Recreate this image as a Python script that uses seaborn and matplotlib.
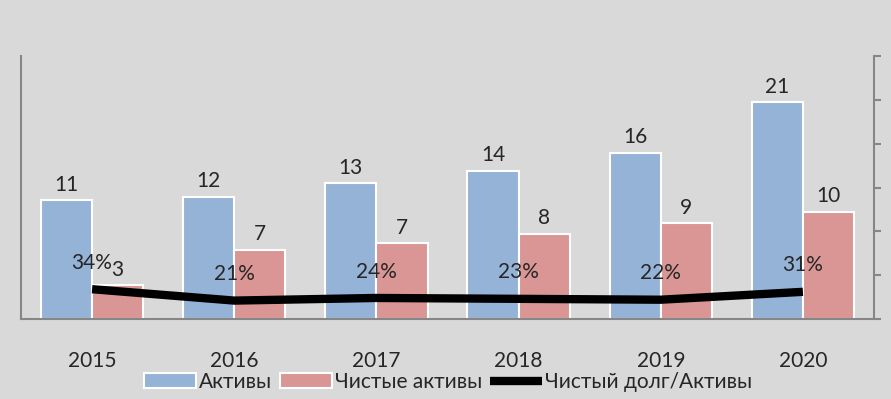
import pandas as pd
import matplotlib
matplotlib.use("Agg")
import matplotlib.pyplot as plt
import seaborn as sns
from matplotlib.patches import Patch
from matplotlib.lines import Line2D

# данные
years = ["2015", "2016", "2017", "2018", "2019", "2020"]
assets = [11.3, 11.6, 12.9, 14.1, 15.8, 20.6]
net_assets = [3.2, 6.6, 7.2, 8.1, 9.1, 10.2]
debt_ratio = [0.34, 0.21, 0.24, 0.23, 0.22, 0.31]
series_names = ["Активы", "Чистые активы", "Чистый долг/Активы"]

blue = "#95b3d7"
red = "#d99694"
bg = "#d9d9d9"
axis_grey = "#868686"
fs = 15

df = pd.DataFrame({
    "year": years * 2,
    "value": assets + net_assets,
    "series": [series_names[0]] * len(years) + [series_names[1]] * len(years),
})

sns.set_style("white")
plt.rcParams["font.family"] = ["Lato", "DejaVu Sans"]

fig = plt.figure(figsize=(8.91, 3.99), dpi=100, facecolor=bg)
ax = fig.add_axes([21 / 891, 1 - 319 / 399, (874 - 21) / 891, (319 - 56) / 399])
ax.set_facecolor(bg)

sns.barplot(data=df, x="year", y="value", hue="series", palette=[blue, red],
            width=0.72, edgecolor="white", linewidth=1.5, saturation=1,
            legend=False, ax=ax)

for cont in ax.containers:
    ax.bar_label(cont, labels=[f"{round(b.get_height())}" for b in cont],
                 padding=4, fontsize=fs)

ax.set_ylim(0, 25)
ax.set_xlim(-0.5, 5.5)
ax.set_xlabel("")
ax.set_ylabel("")
ax.set_yticks([])
ax.tick_params(axis="x", length=0, pad=23, labelsize=fs)
for s in ["top", "right"]:
    ax.spines[s].set_visible(False)
for s in ["left", "bottom"]:
    ax.spines[s].set_color(axis_grey)
    ax.spines[s].set_linewidth(1.5)

# вторая ось для доли долга
ax2 = ax.twinx()
xs = list(range(len(years)))
sns.lineplot(x=xs, y=debt_ratio, color="black", linewidth=6, ax=ax2,
             solid_capstyle="butt")
for x, v in zip(xs, debt_ratio):
    ax2.annotate(f"{v:.0%}", (x, v), xytext=(0, 19), textcoords="offset points",
                 ha="center", va="center", fontsize=fs)
ax2.set_ylim(0, 3)
ax2.set_yticks([0, 0.5, 1, 1.5, 2, 2.5, 3])
ax2.set_yticklabels([])
ax2.tick_params(axis="y", length=5, width=1.5, color=axis_grey, direction="out")
for s in ["top", "left", "bottom"]:
    ax2.spines[s].set_visible(False)
ax2.spines["right"].set_color(axis_grey)
ax2.spines["right"].set_linewidth(1.5)

handles = [
    Patch(facecolor=blue, edgecolor="white", linewidth=1.5),
    Patch(facecolor=red, edgecolor="white", linewidth=1.5),
    Line2D([0], [0], color="black", linewidth=6, solid_capstyle="butt"),
]
fig.legend(handles, series_names, loc="center", bbox_to_anchor=(448 / 891, 1 - 382 / 399),
           ncol=3, frameon=False, fontsize=fs, handlelength=2.5,
           handletextpad=0.15, columnspacing=0.35, borderaxespad=0,
           borderpad=0)

fig.savefig("out.png", dpi=100, facecolor=bg)
